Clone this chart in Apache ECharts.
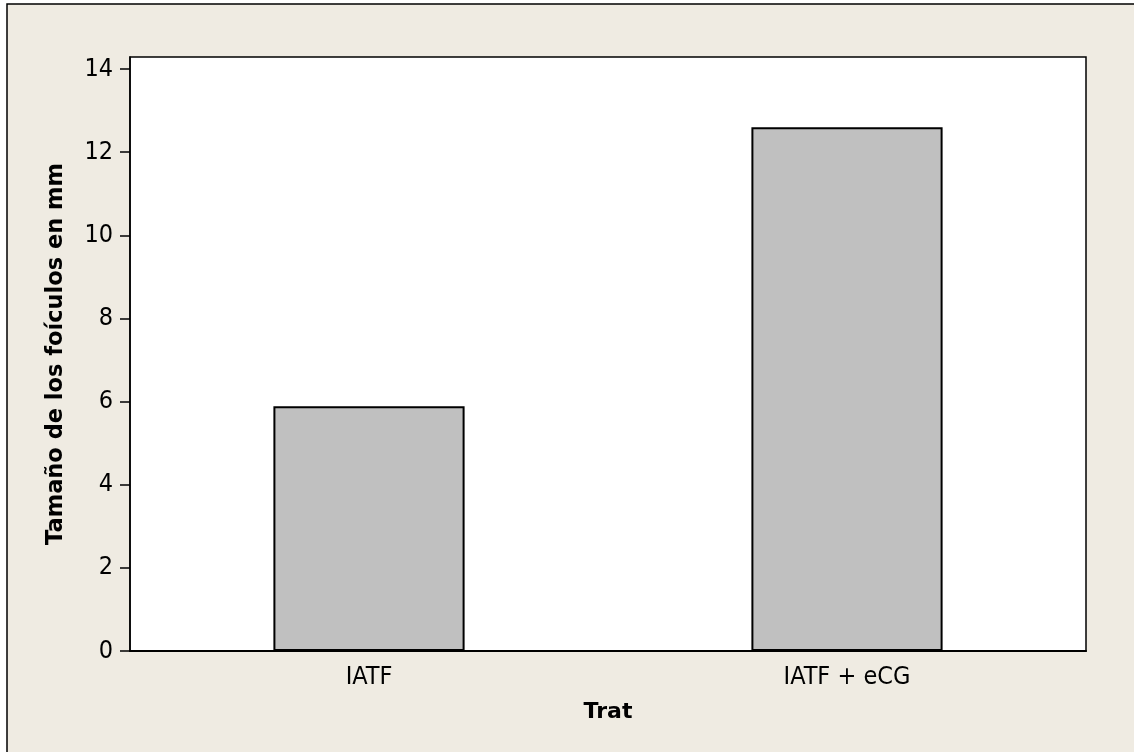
<!DOCTYPE html>
<html>
<head>
<meta charset="utf-8">
<script src="https://cdn.jsdelivr.net/npm/echarts@6/dist/echarts.min.js"></script>
<style>
  html, body { margin: 0; padding: 0; background: #ffffff; }
  #chart { width: 1134px; height: 752px; }
</style>
</head>
<body>
<div id="chart"></div>
<script>
// values
var categories = ['IATF', 'IATF + eCG'];
var follicleSize = [5.89, 12.6];
var yTicks = [0, 2, 4, 6, 8, 10, 12, 14];

var labelFont = '"DejaVu Sans Condensed", "DejaVu Sans", sans-serif';
var titleFont = '"DejaVu Sans", sans-serif';

var chart = echarts.init(document.getElementById('chart'), null, { renderer: 'canvas' });

chart.setOption({
    animation: false,
    backgroundColor: '#ffffff',
    graphic: [{
        // outer frame runs off the right/bottom edge, as in the source image
        type: 'rect',
        z: -10,
        shape: { x: 7, y: 4, width: 1200, height: 800 },
        style: { fill: '#EFEBE2', stroke: '#000000', lineWidth: 1.5 }
    }],
    grid: {
        left: 130, top: 57, right: 48, bottom: 101,
        show: true,
        backgroundColor: '#ffffff',
        borderColor: '#000000',
        borderWidth: 1.5
    },
    xAxis: {
        type: 'category',
        data: categories,
        name: 'Trat',
        nameLocation: 'middle',
        nameGap: 50,
        nameTextStyle: { fontFamily: titleFont, fontWeight: 'bold', fontSize: 22, color: '#000' },
        axisLine: { lineStyle: { color: '#000', width: 2 } },
        axisTick: { alignWithLabel: true, length: 10, lineStyle: { color: '#000', width: 1.5 } },
        axisLabel: { fontFamily: labelFont, fontSize: 25, color: '#000', margin: 14 }
    },
    yAxis: {
        type: 'value',
        min: 0,
        max: 14.29,
        name: 'Tamaño de los foículos en mm',
        nameLocation: 'middle',
        nameGap: 62,
        nameTextStyle: { fontFamily: titleFont, fontWeight: 'bold', fontSize: 22.5, color: '#000' },
        splitLine: { show: false },
        axisLine: { show: true, lineStyle: { color: '#000', width: 1.5 } },
        axisTick: { show: true, length: 10, customValues: yTicks, lineStyle: { color: '#000', width: 1.5 } },
        axisLabel: { fontFamily: labelFont, fontSize: 25, color: '#000', margin: 17, customValues: yTicks }
    },
    series: [{
        type: 'bar',
        data: follicleSize,
        barWidth: '40%',
        itemStyle: { color: '#C0C0C0', borderColor: '#000000', borderWidth: 2 }
    }]
});
</script>
</body>
</html>
